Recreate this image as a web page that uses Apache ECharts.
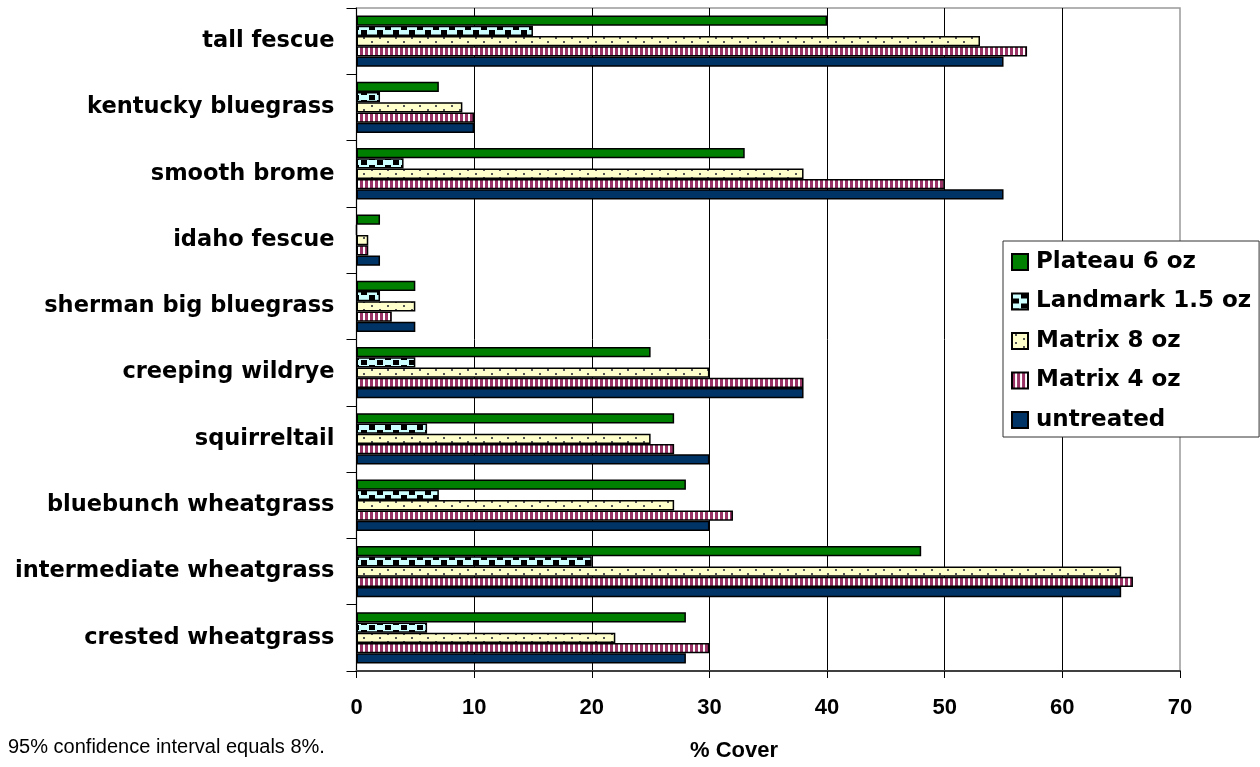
<!DOCTYPE html>
<html>
<head>
<meta charset="utf-8">
<script src="https://cdn.jsdelivr.net/npm/echarts@6/dist/echarts.min.js"></script>
<style>
  html, body { margin: 0; padding: 0; background: #fff; }
  #chart { width: 1260px; height: 767px; }
</style>
</head>
<body>
<div id="chart"></div>
<script>
// ---- data (bottom to top on the chart) ----
const categories = ['crested wheatgrass', 'intermediate wheatgrass', 'bluebunch wheatgrass', 'squirreltail',
  'creeping wildrye', 'sherman big bluegrass', 'idaho fescue', 'smooth brome', 'kentucky bluegrass', 'tall fescue'];
const seriesNames = ['Plateau 6 oz', 'Landmark 1.5 oz', 'Matrix 8 oz', 'Matrix 4 oz', 'untreated'];
const plateau6 = [28, 48, 28, 27, 25, 5, 2, 33, 7, 40];
const landmark15 = [6, 20, 7, 6, 5, 2, 0, 4, 2, 15];
const matrix8 = [22, 65, 27, 25, 30, 5, 1, 38, 9, 53];
const matrix4 = [30, 66, 32, 27, 38, 3, 1, 50, 10, 57];
const untreated = [28, 65, 30, 30, 38, 5, 2, 55, 10, 55];
const xTicks = [0, 10, 20, 30, 40, 50, 60, 70];
const xTitle = '% Cover';
const footnote = '95% confidence interval equals 8%.';

// ---- fill patterns ----
function makeTile(w, h, draw) {
  const c = document.createElement('canvas');
  c.width = w; c.height = h;
  draw(c.getContext('2d'));
  return { image: c, repeat: 'repeat' };
}
const checkerFill = makeTile(16, 10, ctx => {
  ctx.fillStyle = '#CCFFFF'; ctx.fillRect(0, 0, 16, 10);
  ctx.fillStyle = '#000000';
  ctx.fillRect(9, 0, 6, 5);
  ctx.fillRect(1, 5, 6, 5);
});
const dotFill = makeTile(16, 8, ctx => {
  ctx.fillStyle = '#FFFFCC'; ctx.fillRect(0, 0, 16, 8);
  ctx.fillStyle = '#555555';
  ctx.fillRect(3, 1, 2, 2);
  ctx.fillRect(11, 5, 2, 2);
});
const stripeFill = makeTile(5, 4, ctx => {
  ctx.fillStyle = '#FFFFFF'; ctx.fillRect(0, 0, 5, 4);
  ctx.fillStyle = '#993366'; ctx.fillRect(0, 0, 3, 4);
});
const fills = ['#008000', checkerFill, dotFill, stripeFill, '#003366'];
const values = [plateau6, landmark15, matrix8, matrix4, untreated];

const chart = echarts.init(document.getElementById('chart'), null, { renderer: 'canvas' });
const labelFont = 'DejaVu Sans';
const numFont = 'Liberation Sans';

chart.setOption({
  animation: false,
  backgroundColor: '#ffffff',
  grid: {
    left: 356.5, right: 80, top: 8, bottom: 96,
    show: true, borderColor: '#999999', borderWidth: 1.5, backgroundColor: 'transparent'
  },
  legend: {
    data: seriesNames,
    orient: 'vertical',
    left: 1003, top: 241,
    padding: [9, 8, 5, 8],
    itemGap: 15.5,
    itemWidth: 16, itemHeight: 16,
    icon: 'rect',
    backgroundColor: '#ffffff',
    borderColor: '#333333', borderWidth: 1,
    textStyle: { fontFamily: labelFont, fontWeight: 'bold', fontSize: 23, color: '#000', lineHeight: 24, padding: [0, 0, 0, 3] }
  },
  xAxis: {
    type: 'value', min: xTicks[0], max: xTicks[xTicks.length - 1], interval: 10,
    axisLine: { show: true, lineStyle: { color: '#404040', width: 2 } },
    axisTick: { show: true, length: 7, lineStyle: { color: '#000', width: 1 } },
    splitLine: { show: true, showMinLine: false, showMaxLine: false, lineStyle: { color: '#000', width: 1 } },
    axisLabel: { fontFamily: numFont, fontWeight: 'bold', fontSize: 22, color: '#000', margin: 26 }
  },
  yAxis: {
    type: 'category', data: categories,
    axisLine: { show: true, lineStyle: { color: '#000', width: 1 } },
    axisTick: { show: true, length: 10, lineStyle: { color: '#000', width: 1 } },
    axisLabel: { fontFamily: labelFont, fontWeight: 'bold', fontSize: 22.5, color: '#000', margin: 22 }
  },
  series: seriesNames.map((name, i) => ({
    name: name,
    type: 'bar',
    data: values[i],
    barGap: '0%',
    barCategoryGap: '22.6%',
    itemStyle: { color: fills[i], borderColor: '#000', borderWidth: 1.5 }
  })),
  graphic: [
    { type: 'text', left: 690, top: 740, style: { text: xTitle, font: 'bold 22px "Liberation Sans"', fill: '#000' } },
    { type: 'text', left: 8, top: 737, style: { text: footnote, font: '20px "Liberation Sans"', fill: '#000' } }
  ]
});
</script>
</body>
</html>
